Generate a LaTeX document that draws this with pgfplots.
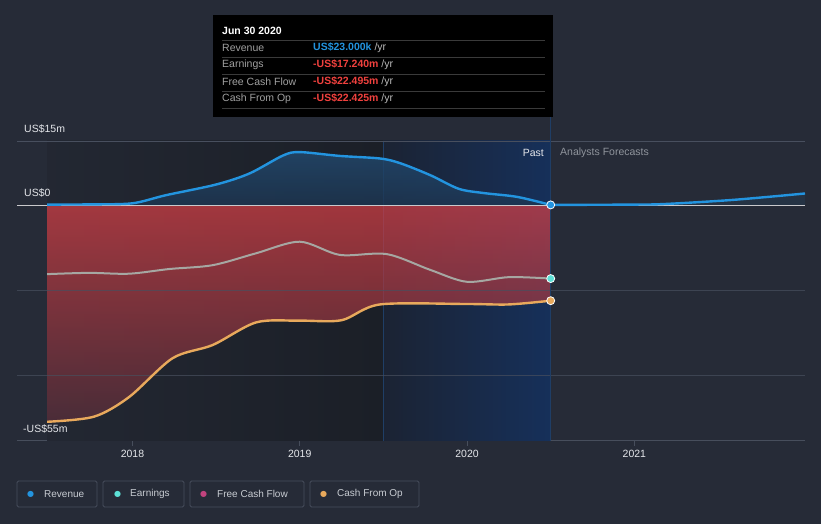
\documentclass[border=0pt]{standalone}
\usepackage{pgfplots}
\pgfplotsset{compat=1.18}
\usepackage{fontspec}
\setmainfont{Liberation Sans}
\newfontfamily\dejavu{DejaVu Sans}
\definecolor{bg}{HTML}{262B37}
\definecolor{pastdark}{HTML}{1B1F27}
\definecolor{pbleft}{HTML}{1B2333}
\definecolor{pbright}{HTML}{16305A}
\definecolor{vline}{HTML}{1F3E66}
\definecolor{revblue}{HTML}{2394DF}
\definecolor{earn}{HTML}{A6A7A2}
\definecolor{earndot}{HTML}{5CE0D6}
\definecolor{fcf}{HTML}{C1437E}
\definecolor{cfo}{HTML}{E8A95C}
\definecolor{gridc}{HTML}{484F5E}
\definecolor{txt}{HTML}{E4E6EA}
\definecolor{ttgray}{HTML}{A0A0A0}
\definecolor{ttred}{HTML}{F0413E}
\definecolor{legbox}{HTML}{474E5C}
\definecolor{revtop}{HTML}{224A70}
\definecolor{revbot}{HTML}{1D3652}
\definecolor{redtop}{HTML}{DA4046}
\definecolor{redbot}{HTML}{5B2F3B}
\definecolor{zeroline}{HTML}{C9C9CC}
\definecolor{fcgray}{HTML}{8F949C}
\definecolor{ttsep}{HTML}{3A3A3A}
\definecolor{legtxt}{HTML}{C8CCD2}

\begin{document}
\begin{tikzpicture}[x=1pt,y=1pt]
\fill[bg] (0,0) rectangle (821,524);
\useasboundingbox (0,0) rectangle (821,524);
\begin{axis}[at={(17pt,83pt)}, anchor=south west, scale only axis,
  width=788pt, height=300pt,
  xmin=2017.31, xmax=2022.02, ymin=-55.3, ymax=15,
  clip=false,
  axis y line=none, axis x line*=bottom,
  x axis line style={draw=legbox, line width=1pt},
  xtick={2018,2019,2020,2021},
  xticklabels={2018,2019,2020,2021},
  major tick length=5pt, tick align=outside,
  x tick style={draw=legbox, line width=0.8pt},
  xticklabel style={text=txt, font=\fontsize{10.5}{12}\selectfont, yshift=-1pt},
  /pgf/number format/assume math mode=true,
]
% past shading
\fill[left color=bg!70!pastdark, right color=pastdark] (axis cs:2017.49,-55.3) rectangle (axis cs:2019.5,15);
\fill[left color=pbleft, right color=pbright] (axis cs:2019.5,-55.3) rectangle (axis cs:2020.5,15);
\draw[vline, line width=0.8pt] (axis cs:2019.5,-55.3) -- (axis cs:2019.5,15);
% gridline top
\draw[gridc, line width=0.8pt] (axis cs:2017.31,15) -- (axis cs:2022.02,15);
% revenue fill
\addplot[draw=none, smooth, top color=revtop, bottom color=revbot, fill opacity=0.8] coordinates {
(2017.49,0.1)(2017.75,0.15)(2018.0,0.4)(2018.2,2.3)(2018.5,4.8)(2018.7,7.4)(2018.9,11.6)(2019.0,12.4)(2019.24,11.5)(2019.48,10.9)(2019.6,9.8)(2019.78,7.0)(2019.95,3.8)(2020.1,2.8)(2020.3,1.9)(2020.5,0.02)
} \closedcycle;
\addplot[draw=none, smooth, fill=revblue, fill opacity=0.08] coordinates {
(2020.5,0.02)(2021.0,0.1)(2021.19,0.25)(2021.59,1.2)(2022.02,2.7)
} \closedcycle;
% FCF fill
\addplot[draw=none, smooth, top color=redtop, bottom color=redbot, fill opacity=0.7] coordinates {
(2017.49,-50.9)(2017.77,-49.7)(2017.98,-45.1)(2018.24,-36.0)(2018.48,-32.9)(2018.74,-27.6)(2019.0,-27.2)(2019.25,-27.1)(2019.48,-23.4)(2020.0,-23.3)(2020.25,-23.4)(2020.5,-22.495)
} \closedcycle;
% gridlines
\draw[gridc, line width=0.8pt, opacity=0.7] (axis cs:2017.31,-20) -- (axis cs:2022.02,-20);
\draw[gridc, line width=0.8pt, opacity=0.7] (axis cs:2017.31,-40) -- (axis cs:2022.02,-40);
\draw[zeroline, line width=1pt] (axis cs:2017.31,0) -- (axis cs:2022.02,0);
% vertical line
\draw[vline, line width=1pt] (axis cs:2020.5,-55.3) -- (axis cs:2020.5,20.7);
% lines
\addplot[earn, line width=2pt, smooth] coordinates {
(2017.49,-16.2)(2017.74,-15.9)(2017.98,-16.1)(2018.22,-15.0)(2018.48,-14.1)(2018.74,-11.3)(2019.0,-8.6)(2019.24,-11.7)(2019.52,-11.5)(2019.78,-15.2)(2020.0,-18.0)(2020.25,-16.9)(2020.5,-17.24)
};
\addplot[cfo, line width=2.4pt, smooth] coordinates {
(2017.49,-50.8)(2017.77,-49.6)(2017.98,-45.0)(2018.24,-35.9)(2018.48,-32.8)(2018.74,-27.5)(2019.0,-27.1)(2019.25,-27.0)(2019.48,-23.3)(2020.0,-23.2)(2020.25,-23.3)(2020.5,-22.425)
};
\addplot[revblue, line width=2.4pt, smooth] coordinates {
(2017.49,0.1)(2017.75,0.15)(2018.0,0.4)(2018.2,2.3)(2018.5,4.8)(2018.7,7.4)(2018.9,11.6)(2019.0,12.4)(2019.24,11.5)(2019.48,10.9)(2019.6,9.8)(2019.78,7.0)(2019.95,3.8)(2020.1,2.8)(2020.3,1.9)(2020.5,0.02)
};
\addplot[revblue, line width=2.4pt, smooth] coordinates {
(2020.5,0.02)(2021.0,0.1)(2021.19,0.25)(2021.59,1.2)(2022.02,2.7)
};
% end markers
\addplot[only marks, mark=*, mark size=4pt, mark options={fill=revblue, draw=white, line width=0.8pt}] coordinates {(2020.5,0.023)};
\addplot[only marks, mark=*, mark size=4pt, mark options={fill=earndot, draw=white, line width=0.8pt}] coordinates {(2020.5,-17.24)};
\addplot[only marks, mark=*, mark size=4pt, mark options={fill=cfo, draw=white, line width=0.8pt}] coordinates {(2020.5,-22.425)};
\end{axis}
% axis value labels
\node[anchor=west, text=txt, font=\fontsize{10.5}{12}\selectfont, inner sep=0pt] at (24,395) {US\$15m};
\node[anchor=west, text=txt, font=\fontsize{10.5}{12}\selectfont, inner sep=0pt] at (24,331) {US\$0};
\node[anchor=west, text=txt, font=\fontsize{10.5}{12}\selectfont, inner sep=0pt] at (23,95) {-US\$55m};
\node[anchor=east, text=txt, font=\fontsize{10.5}{12}\selectfont, inner sep=0pt] at (544,371) {Past};
\node[anchor=west, text=fcgray, font=\fontsize{10.5}{12}\selectfont, inner sep=0pt] at (560,371) {Analysts Forecasts};
% tooltip
\fill[black] (213,407) rectangle (553,509);
\node[anchor=west, text=white, font=\bfseries\fontsize{10.5}{12}\selectfont, inner sep=0pt] at (222,493) {Jun 30 2020};
\foreach \yy in {484,467,450,433,416} {\draw[ttsep, line width=0.8pt] (222,\yy) -- (545,\yy);}
\begin{scope}[every node/.style={anchor=west, inner sep=0pt, font=\fontsize{10.5}{12}\selectfont}]
\node[text=ttgray] at (222,476) {Revenue};
\node[text=ttgray] at (222,459) {Earnings};
\node[text=ttgray] at (222,442) {Free Cash Flow};
\node[text=ttgray] at (222,425) {Cash From Op};
\node at (313,476) {\textcolor{revblue}{\bfseries US\$23.000k} \textcolor{ttgray!70!white}{/yr}};
\node at (313,459) {\textcolor{ttred}{\bfseries -US\$17.240m} \textcolor{ttgray!70!white}{/yr}};
\node at (313,442) {\textcolor{ttred}{\bfseries -US\$22.495m} \textcolor{ttgray!70!white}{/yr}};
\node at (313,425) {\textcolor{ttred}{\bfseries -US\$22.425m} \textcolor{ttgray!70!white}{/yr}};
\end{scope}
% legend
\begin{scope}[legbox, line width=0.8pt, rounded corners=1.5pt]
\draw (17,17) rectangle (97,43);
\draw (103,17) rectangle (184,43);
\draw (190,17) rectangle (304,43);
\draw (310,17) rectangle (419,43);
\end{scope}
\begin{scope}[every node/.style={anchor=west, inner sep=0pt, font=\fontsize{10}{12}\selectfont, text=legtxt}]
\node[text=revblue, font=\dejavu\fontsize{8}{10}\selectfont] at (27,30) {●};
\node at (44,30) {Revenue};
\node[text=earndot, font=\dejavu\fontsize{8}{10}\selectfont] at (114,30) {●};
\node at (130,30) {Earnings};
\node[text=fcf, font=\dejavu\fontsize{8}{10}\selectfont] at (200,30) {●};
\node at (217,30) {Free Cash Flow};
\node[text=cfo, font=\dejavu\fontsize{8}{10}\selectfont] at (320,30) {●};
\node at (337,30) {Cash From Op};
\end{scope}
\end{tikzpicture}
\end{document}
